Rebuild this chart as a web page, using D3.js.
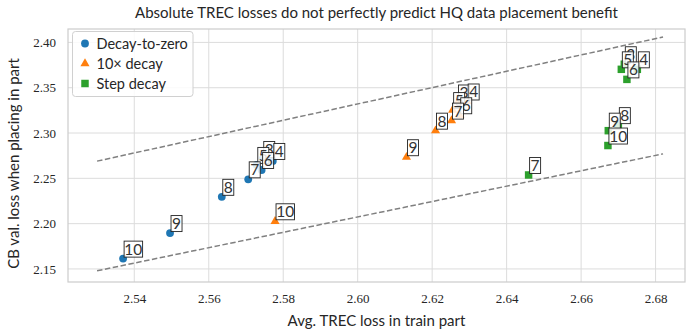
<!DOCTYPE html>
<html>
<head>
<meta charset="utf-8">
<script src="https://cdn.jsdelivr.net/npm/d3@7"></script>
<style>
  html, body { margin: 0; padding: 0; background: #fff; }
  svg { display: block; }
</style>
</head>
<body>
<svg id="chart" width="686" height="329"></svg>
<script>
// Part indices (labels drawn next to each point)
const parts = [3, 4, 5, 6, 7, 8, 9, 10];

// Decay-to-zero schedule
const dtzTrec = [2.5745, 2.5772, 2.5729, 2.5742, 2.5706, 2.5635, 2.5496, 2.5370];
const dtzCb   = [2.2714, 2.2692, 2.2648, 2.2592, 2.2489, 2.2296, 2.1896, 2.1614];

// 10x decay schedule
const tenTrec = [2.6268, 2.6294, 2.6255, 2.6274, 2.6252, 2.6209, 2.6131, 2.5778];
const tenCb   = [2.3337, 2.3348, 2.3253, 2.3196, 2.3137, 2.3026, 2.2733, 2.2026];

// Step decay schedule
const stepTrec = [2.6716, 2.6751, 2.6708, 2.6723, 2.6459, 2.6700, 2.6673, 2.6672];
const stepCb   = [2.3759, 2.3703, 2.3703, 2.3592, 2.2537, 2.3087, 2.3026, 2.2862];

// Dashed reference bands (endpoints)
const bandX     = [2.53, 2.682];
const upperBand = [2.269, 2.406];
const lowerBand = [2.148, 2.277];

const xTicks = [2.54, 2.56, 2.58, 2.60, 2.62, 2.64, 2.66, 2.68];
const yTicks = [2.15, 2.20, 2.25, 2.30, 2.35, 2.40];

const seriesNames = ["Decay-to-zero", "10\u00d7 decay", "Step decay"];
const seriesColors = ["#1f77b4", "#ff7f0e", "#2ca02c"];
const seriesShapes = [d3.symbolCircle, d3.symbolTriangle, d3.symbolSquare];
const seriesSizes = [48, 36, 56];

const series = [
  { trec: dtzTrec, cb: dtzCb },
  { trec: tenTrec, cb: tenCb },
  { trec: stepTrec, cb: stepCb }
];

const margin = { left: 68, right: 1, top: 29, bottom: 47 };
const W = 686, H = 329;
const svg = d3.select("#chart");

const x = d3.scaleLinear()
  .domain([2.5222, 2.6879])
  .range([margin.left, W - margin.right]);
const y = d3.scaleLinear()
  .domain([2.1356, 2.4148])
  .range([H - margin.bottom, margin.top]);

const textColor = "#262626";
const gridColor = "#dcdcdc";
const serif = "'Liberation Serif', 'DejaVu Serif', serif";
const sans = "Lato, 'Open Sans', sans-serif";

// Grid
const grid = svg.append("g");
grid.selectAll("line.vx").data(xTicks).join("line")
  .attr("x1", d => x(d)).attr("x2", d => x(d))
  .attr("y1", margin.top).attr("y2", H - margin.bottom)
  .attr("stroke", gridColor).attr("stroke-width", 1);
grid.selectAll("line.hy").data(yTicks).join("line")
  .attr("x1", margin.left).attr("x2", W - margin.right)
  .attr("y1", d => y(d)).attr("y2", d => y(d))
  .attr("stroke", gridColor).attr("stroke-width", 1);

// Frame
svg.append("rect")
  .attr("x", margin.left).attr("y", margin.top)
  .attr("width", W - margin.right - margin.left)
  .attr("height", H - margin.bottom - margin.top)
  .attr("fill", "none").attr("stroke", "#cccccc").attr("stroke-width", 1.2);

// Axes (tick labels only)
const xAxis = svg.append("g")
  .attr("transform", `translate(0,${H - margin.bottom})`)
  .call(d3.axisBottom(x).tickValues(xTicks).tickFormat(d3.format(".2f")).tickSize(0).tickPadding(12));
xAxis.select(".domain").remove();
xAxis.selectAll("text").attr("font-family", serif).attr("font-size", 13).attr("fill", textColor);

const yAxis = svg.append("g")
  .attr("transform", `translate(${margin.left},0)`)
  .call(d3.axisLeft(y).tickValues(yTicks).tickFormat(d3.format(".2f")).tickSize(0).tickPadding(12));
yAxis.select(".domain").remove();
yAxis.selectAll("text").attr("font-family", serif).attr("font-size", 13).attr("fill", textColor);

// Dashed reference lines
const line = d3.line().x(d => x(d[0])).y(d => y(d[1]));
[upperBand, lowerBand].forEach(band => {
  svg.append("path")
    .datum(bandX.map((v, i) => [v, band[i]]))
    .attr("d", line)
    .attr("fill", "none")
    .attr("stroke", "#808080")
    .attr("stroke-width", 1.5)
    .attr("stroke-dasharray", "5.5,2.5");
});

// Points
series.forEach((s, si) => {
  const sym = d3.symbol().type(seriesShapes[si]).size(seriesSizes[si]);
  svg.append("g").selectAll("path").data(parts).join("path")
    .attr("d", sym)
    .attr("transform", (d, i) => `translate(${x(s.trec[i])},${y(s.cb[i])})`)
    .attr("fill", seriesColors[si]);
});

// Part labels in small boxes
series.forEach((s, si) => {
  const g = svg.append("g");
  parts.forEach((p, i) => {
    const px = x(s.trec[i]), py = y(s.cb[i]);
    const txt = String(p);
    const w = txt.length > 1 ? 18.5 : 11;
    const h = 16;
    const bx = px + 1, by = py - 1.5 - h;
    g.append("rect")
      .attr("x", bx).attr("y", by).attr("width", w).attr("height", h)
      .attr("fill", "rgba(255,255,255,0.85)")
      .attr("stroke", "#222").attr("stroke-width", 0.9);
    g.append("text")
      .attr("x", bx + w / 2).attr("y", by + h - 2.5)
      .attr("text-anchor", "middle")
      .attr("font-family", sans).attr("font-size", 15.5)
      .attr("fill", "#333")
      .text(txt);
  });
});

// Legend
const lg = svg.append("g").attr("transform", "translate(72.5,31.5)");
lg.append("rect")
  .attr("width", 120.5).attr("height", 65)
  .attr("rx", 3).attr("ry", 3)
  .attr("fill", "rgba(255,255,255,0.85)")
  .attr("stroke", "#d0d0d0").attr("stroke-width", 1);
seriesNames.forEach((name, i) => {
  const row = lg.append("g").attr("transform", `translate(0,${12 + i * 20})`);
  row.append("path")
    .attr("d", d3.symbol().type(seriesShapes[i]).size(seriesSizes[i])())
    .attr("transform", "translate(12.5,0)")
    .attr("fill", seriesColors[i]);
  row.append("text")
    .attr("x", 24).attr("y", 5)
    .attr("font-family", sans).attr("font-size", 14.5)
    .attr("fill", textColor)
    .text(name);
});

// Title and axis labels
svg.append("text")
  .attr("x", (margin.left + W - margin.right) / 2).attr("y", 18)
  .attr("text-anchor", "middle")
  .attr("font-family", sans).attr("font-size", 15)
  .attr("fill", textColor)
  .text("Absolute TREC losses do not perfectly predict HQ data placement benefit");

svg.append("text")
  .attr("x", (margin.left + W - margin.right) / 2).attr("y", 326)
  .attr("text-anchor", "middle")
  .attr("font-family", sans).attr("font-size", 15)
  .attr("fill", textColor)
  .text("Avg. TREC loss in train part");

svg.append("text")
  .attr("transform", `translate(19,${(margin.top + H - margin.bottom) / 2 + 8}) rotate(-90)`)
  .attr("text-anchor", "middle")
  .attr("font-family", sans).attr("font-size", 15)
  .attr("fill", textColor)
  .text("CB val. loss when placing in part");
</script>
</body>
</html>
